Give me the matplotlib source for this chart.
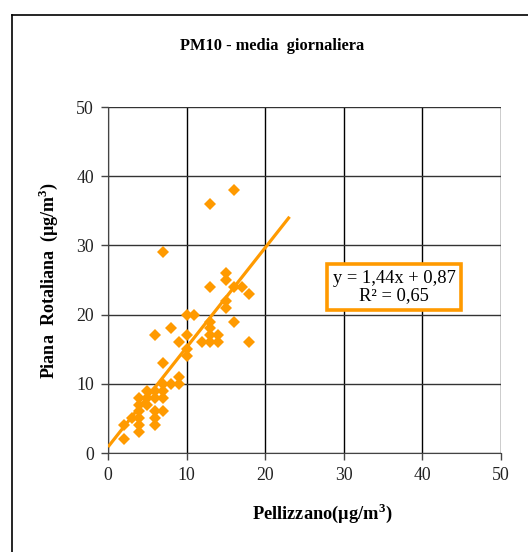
import numpy as np
import matplotlib.pyplot as plt
from matplotlib.lines import Line2D

plt.rcParams['font.family'] = ['Liberation Serif', 'DejaVu Serif']
plt.rcParams['mathtext.fontset'] = 'custom'
plt.rcParams['mathtext.rm'] = 'Liberation Serif'
plt.rcParams['mathtext.bf'] = 'Liberation Serif:bold'

# daily PM10 pairs (Pellizzano, Piana Rotaliana)
pellizzano = [16, 13, 7, 15, 15, 13, 16, 17, 18, 15, 15, 10, 11, 13, 16, 8, 6, 10,
              13, 14, 13, 9, 12, 13, 14, 18, 10, 10, 7, 9, 9, 8, 7, 5, 6, 7,
              4, 5, 6, 7, 4, 5, 4, 6, 7, 3, 4, 6, 2, 4, 6, 4, 2]
piana = [38, 36, 29, 26, 25, 24, 24, 24, 23, 22, 21, 20, 20, 19, 19, 18, 17, 17,
         18, 17, 17, 16, 16, 16, 16, 16, 15, 14, 13, 11, 10, 10, 10, 9, 9, 9,
         8, 8, 8, 8, 7, 7, 6, 6, 6, 5, 5, 5, 4, 4, 4, 3, 2]
slope, intercept = 1.44, 0.87
trend_x = [0, 23.1]
eq_text = "y = 1,44x + 0,87\nR² = 0,65"

orange = '#FF9A00'

fig = plt.figure(figsize=(5.28, 5.52), dpi=100)
ax = fig.add_axes([108 / 528, 1 - 453 / 552, (501 - 108) / 528, (453 - 107) / 552])

ax.set_xlim(0, 50)
ax.set_ylim(0, 50)
ax.set_xticks(range(0, 51, 10))
ax.set_yticks(range(0, 51, 10))
ax.grid(axis='x', color='black', linewidth=1)
ax.grid(axis='y', color='#333333', linewidth=1)
ax.set_axisbelow(True)
for side in ['top', 'right']:
    ax.spines[side].set_visible(False)
for side in ['left', 'bottom']:
    ax.spines[side].set_color('#444444')
ax.tick_params(direction='out', length=5, width=1, color='#444444',
               labelsize=12.8, pad=5, labelcolor='#222222')

ax.plot(pellizzano, piana, linestyle='none', marker='D', markersize=6.2,
        color=orange, markeredgewidth=0, zorder=3)
tx = np.array(trend_x)
ax.plot(tx, slope * tx + intercept, color=orange, linewidth=2.3, zorder=4,
        solid_capstyle='butt')

ax.text(0.728, 0.48, eq_text, transform=ax.transAxes, ha='center', va='center',
        fontsize=13.3, linespacing=1.0, zorder=5,
        bbox=dict(boxstyle='square,pad=0.32', facecolor='white',
                  edgecolor=orange, linewidth=2.6))

fig.text(272 / 528, 1 - 46 / 552, 'PM10 - media  giornaliera', ha='center',
         va='center', fontsize=11.8, fontweight='bold')
fig.text(322 / 528, 1 - 513 / 552, r'Pellizzano(µg/m$^\mathbf{3}$)', ha='center',
         va='center', fontsize=13.2, fontweight='bold')
fig.text(48 / 528, 1 - 281 / 552, r'Piana  Rotaliana  (µg/m$^\mathbf{3}$)',
         ha='center', va='center', rotation=90, fontsize=13, fontweight='bold')

# outer chart frame (left and top edges visible)
fig.add_artist(Line2D([12 / 528, 12 / 528], [0, 1 - 15 / 552], color='black',
                      linewidth=1.2, transform=fig.transFigure))
fig.add_artist(Line2D([12 / 528, 1], [1 - 15 / 552, 1 - 15 / 552], color='black',
                      linewidth=1.2, transform=fig.transFigure))

fig.savefig('out.png', dpi=100)
